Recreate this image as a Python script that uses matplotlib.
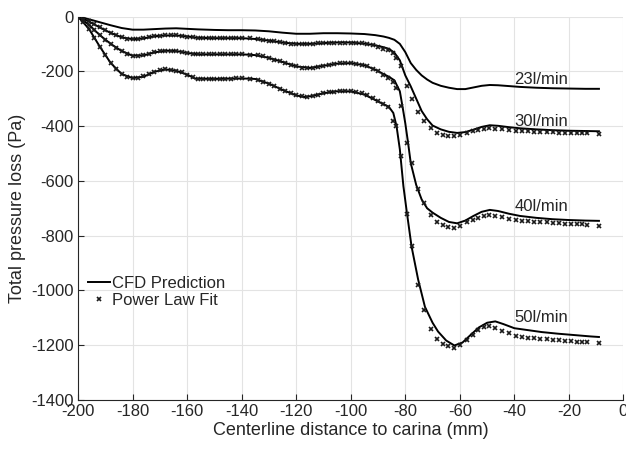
import matplotlib

matplotlib.use("Agg")
import matplotlib.pyplot as plt

plt.rcParams["font.family"] = ["Liberation Sans", "DejaVu Sans"]
plt.rcParams["axes.unicode_minus"] = False

# CFD prediction curves (x in mm, pressure loss in Pa)
x_cfd = [-200, -196, -192, -188, -184, -180, -176, -172, -168, -164, -160, -156, -150, -145, -140,
         -135, -130, -125, -120, -115, -110, -105, -100, -95, -91, -88, -86, -84, -82, -80,
         -78, -76, -74, -72, -70, -67, -64, -61, -58, -55, -52, -49, -46, -42, -38,
         -32, -26, -20, -14, -9]
y_23 = [0, -10, -21, -32, -42, -48, -48, -46, -44, -43, -45, -47, -49, -50, -50,
        -51, -54, -59, -63, -63, -61, -61, -62, -64, -68, -73, -78, -85, -100, -130,
        -170, -195, -215, -230, -242, -253, -260, -265, -265, -259, -253, -250, -251, -254, -257,
        -260, -262, -263, -264, -264]
y_30 = [0, -18, -40, -60, -76, -83, -80, -72, -69, -69, -73, -78, -79, -79, -79,
        -82, -88, -95, -100, -100, -97, -95, -95, -99, -105, -112, -118, -132, -160, -215,
        -255, -300, -345, -375, -398, -412, -421, -425, -422, -413, -403, -397, -399, -404, -408,
        -412, -415, -417, -418, -419]

x_40 = [-200, -196, -192, -188, -184, -180, -176, -172, -168, -164, -160, -156, -150, -145, -140,
        -135, -130, -125, -120, -115, -110, -105, -100, -95, -91, -88, -86, -84, -82, -81,
        -80, -79, -78, -76, -74, -72, -70, -67, -64, -61, -58, -55, -52, -49, -46,
        -42, -38, -32, -26, -20, -14, -9]
y_40 = [0, -30, -68, -100, -126, -143, -142, -131, -125, -126, -133, -138, -138, -138, -138,
        -141, -151, -166, -182, -188, -180, -172, -170, -178, -194, -210, -220, -233, -273, -330,
        -390, -460, -535, -615, -668, -700, -716, -735, -750, -755, -745, -728, -713, -706, -710,
        -720, -728, -735, -740, -743, -745, -746]

x_50 = [-200, -196, -192, -188, -184, -180, -176, -172, -168, -164, -160, -157, -150, -145, -140,
        -135, -130, -125, -120, -117, -114, -110, -105, -100, -95, -91, -88, -86, -84.4, -83.2,
        -82, -80.7, -79.5, -77.7, -75.3, -72.8, -70, -68, -65, -62, -59, -56, -53, -50, -47,
        -44, -40, -35, -30, -24, -18, -12, -9]
y_50 = [0, -45, -110, -170, -210, -225, -220, -202, -193, -198, -212, -227, -228, -227, -226,
        -228, -245, -268, -288, -294, -290, -280, -273, -273, -285, -305, -320, -330, -352, -401,
        -485, -619, -710, -840, -960, -1060, -1118, -1150, -1183, -1201, -1190, -1162, -1135, -1118, -1113,
        -1123, -1138, -1145, -1152, -1158, -1163, -1168, -1170]

# power law fit points
x_fit = [-200, -198, -196, -194, -192, -190, -188, -186, -184, -182, -180, -178, -176, -174, -172,
         -170, -168, -166, -164, -162, -160, -158, -156, -154, -152, -150, -148, -146, -144, -142,
         -140, -137, -134, -132, -130, -128, -126, -124, -122, -120, -118, -116, -114, -112, -110,
         -108, -106, -104, -102, -100, -98, -96, -94, -92, -90, -88, -86.5, -84.6, -83.4, -81.4,
         -79.3, -77.4, -75.3, -73.1, -70.6, -68.3, -66.3, -64.2, -62, -59.9, -57.5, -55.3, -53.2, -51.2, -49.2,
         -47.1, -44.4, -42.1, -39.5, -37.3, -35, -32.8, -30.5, -28.2, -26, -23.6, -21.4, -19.2, -17, -15.3,
         -13.5, -8.9]
fit_30 = [0, -9, -18, -29, -40, -50, -60, -69, -76, -81, -83, -82, -79, -75, -72,
          -70, -69, -69, -69, -71, -73, -76, -78, -79, -79, -79, -79, -79, -79, -79,
          -79, -80, -83, -85, -88, -91, -94, -97, -99, -100, -101, -100, -99, -98, -97,
          -96, -95, -95, -95, -95, -96, -98, -100, -104, -110, -117, -124, -134, -150, -182,
          -255, -301, -350, -382, -407, -425, -431, -435, -437, -431, -425, -418, -413, -409, -407,
          -409, -412, -415, -417, -418, -419, -420, -421, -422, -423, -424, -424, -425, -426, -426,
          -427, -429]
fit_40 = [0, -14, -30, -49, -68, -86, -100, -114, -126, -137, -143, -144, -141, -136, -131,
          -127, -125, -125, -126, -129, -133, -137, -138, -138, -138, -138, -138, -138, -138, -138,
          -138, -139, -142, -146, -151, -157, -163, -170, -176, -182, -187, -189, -187, -184, -180,
          -176, -173, -171, -170, -170, -172, -176, -182, -190, -200, -212, -224, -240, -262, -325,
          -461, -534, -628, -682, -725, -752, -760, -767, -771, -764, -752, -742, -734, -728, -725,
          -727, -733, -739, -743, -746, -748, -750, -751, -752, -754, -755, -756, -757, -758, -759,
          -760, -763]
fit_50 = [0, -20, -45, -78, -110, -140, -168, -192, -210, -220, -225, -224, -218, -209, -201,
          -196, -193, -194, -198, -204, -212, -222, -227, -228, -228, -228, -227, -227, -227, -226,
          -226, -227, -232, -238, -245, -254, -263, -272, -280, -287, -292, -294, -290, -285, -280,
          -277, -274, -273, -273, -273, -276, -281, -288, -297, -308, -318, -330, -380, -398, -510,
          -722, -837, -980, -1070, -1140, -1178, -1195, -1203, -1209, -1198, -1180, -1161, -1144, -1134, -1130,
          -1136, -1148, -1157, -1165, -1169, -1172, -1174, -1176, -1178, -1180, -1182, -1184, -1186, -1187, -1188,
          -1190, -1192]

flow_labels = ["23l/min", "30l/min", "40l/min", "50l/min"]
label_x = [-40, -40, -40, -40]
label_y = [-230, -383, -694, -1098]

TXT = "#262626"

fig = plt.figure(figsize=(6.26, 4.51), dpi=100)
ax = fig.add_axes([0.1246, 0.1131, 0.8714, 0.8503])

ax.plot(x_cfd, y_23, color="black", lw=1.4, label="CFD Prediction")
ax.plot(x_cfd, y_30, color="black", lw=1.4)
ax.plot(x_40, y_40, color="black", lw=1.4)
ax.plot(x_50, y_50, color="black", lw=1.4)

ax.plot(x_fit, fit_30, ls="none", marker="x", ms=3.0, mew=1.2, color="#1a1a1a", label="Power Law Fit")
ax.plot(x_fit, fit_40, ls="none", marker="x", ms=3.0, mew=1.2, color="#1a1a1a")
ax.plot(x_fit, fit_50, ls="none", marker="x", ms=3.0, mew=1.2, color="#1a1a1a")

for txt, tx, ty in zip(flow_labels, label_x, label_y):
    ax.text(tx, ty, txt, ha="left", va="center", fontsize=12, color=TXT)

ax.set_xlim(-200, 0)
ax.set_ylim(-1400, 0)
ax.set_xticks(range(-200, 1, 20))
ax.set_yticks(range(-1400, 1, 200))
ax.grid(True, color="#e3e3e3", lw=0.8)
ax.set_axisbelow(True)
for side in ("top", "right"):
    ax.spines[side].set_visible(False)
for side in ("left", "bottom"):
    ax.spines[side].set_color(TXT)
    ax.spines[side].set_linewidth(0.8)
ax.tick_params(direction="in", length=4, width=0.8, colors=TXT, labelsize=12, pad=3)

ax.set_xlabel("Centerline distance to carina (mm)", fontsize=13, color=TXT, labelpad=2)
ax.set_ylabel("Total pressure loss (Pa)", fontsize=13, color=TXT, labelpad=4)

ax.legend(loc="upper left", bbox_to_anchor=(0.0, 0.35), frameon=False, fontsize=12,
          handlelength=1.3, handletextpad=0.15, labelspacing=0.15, borderaxespad=0.2,
          labelcolor=TXT)

fig.savefig("out.png", dpi=100)
